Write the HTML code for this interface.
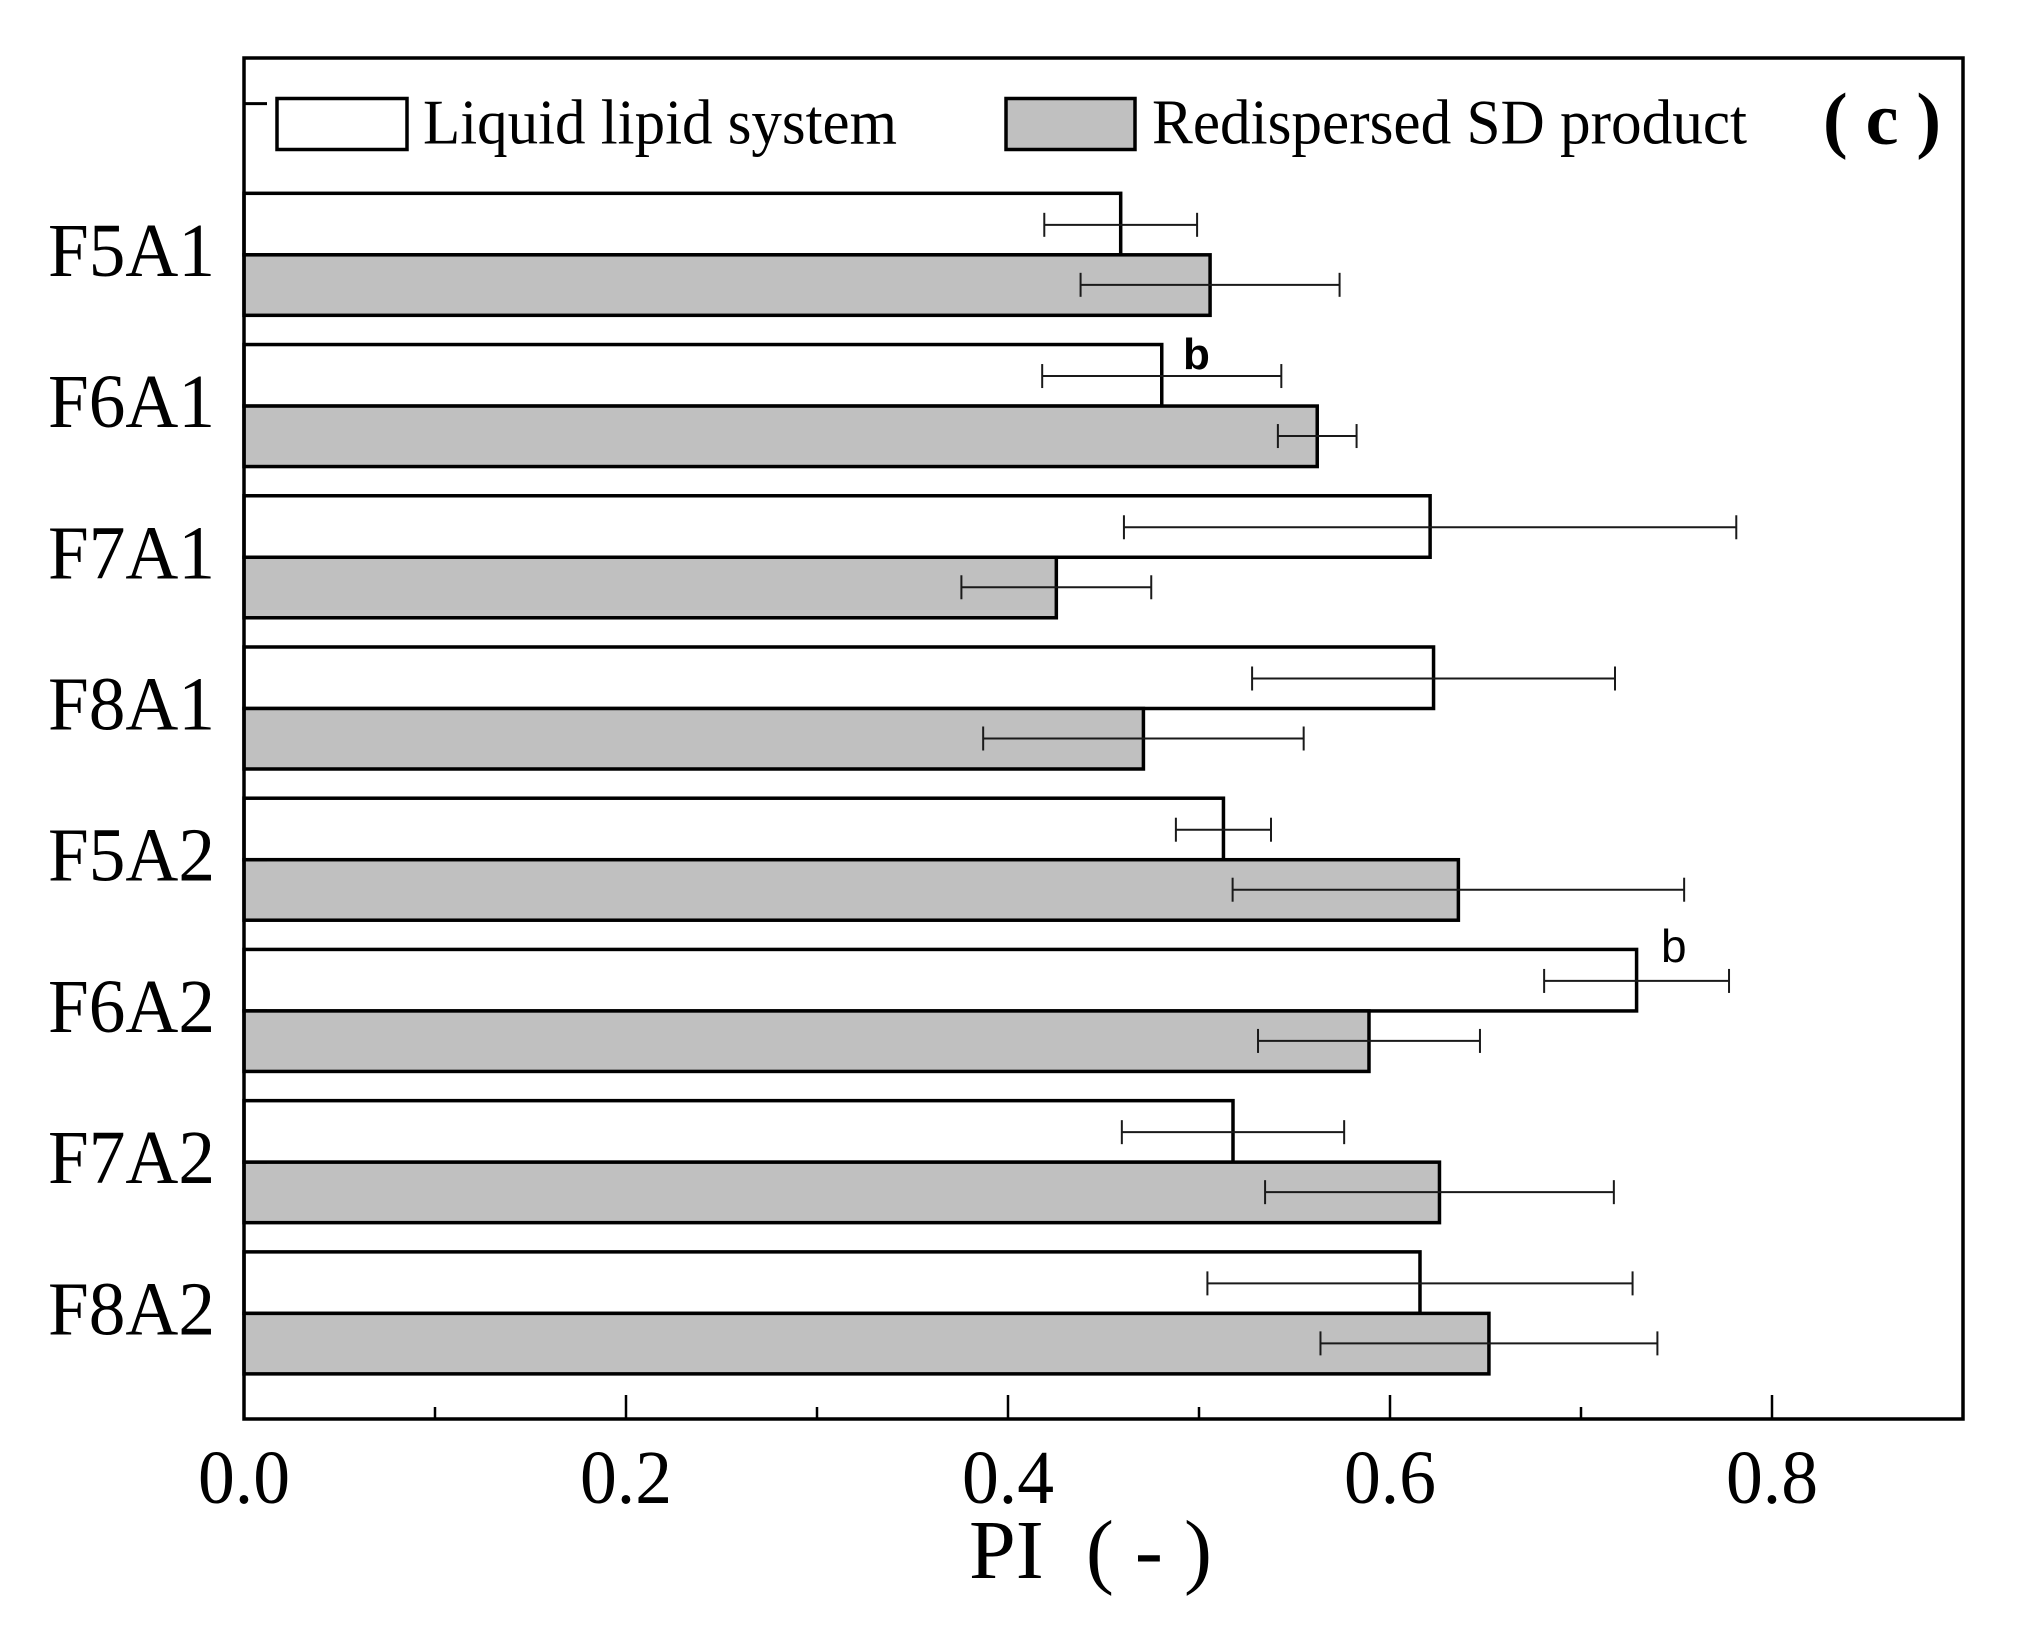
<!DOCTYPE html>
<html lang="en">
<head>
<meta charset="utf-8">
<title>PI bar chart (c)</title>
<style>
html,body{margin:0;padding:0;background:#fff;}
svg{display:block;}
text{font-family:"Liberation Serif",serif;fill:#000;}
</style>
</head>
<body>
<svg id="chart" xmlns="http://www.w3.org/2000/svg" width="2040" height="1635" viewBox="0 0 2040 1635">
  <rect x="0" y="0" width="2040" height="1635" fill="#fff"/>
  <g id="bars"></g>
  <g id="errors"></g>
  <g id="axes"></g>

  <g>
    <rect x="277" y="98.5" width="130" height="51" fill="#fff" stroke="#000" stroke-width="3.5"/>
    <text x="423" y="143.5" font-size="63" textLength="474" lengthAdjust="spacingAndGlyphs">Liquid lipid system</text>
    <rect x="1006" y="98.5" width="129" height="51" fill="#c0c0c0" stroke="#000" stroke-width="3.5"/>
    <text x="1152" y="143.5" font-size="63" textLength="595" lengthAdjust="spacingAndGlyphs">Redispersed SD product</text>
  </g>
  <text x="1823" y="144" font-size="74" font-weight="bold" textLength="118" lengthAdjust="spacing">( c )</text>
  <text x="1183" y="369" font-size="44" font-weight="bold" style="font-family:'Liberation Sans',sans-serif">b</text>
  <text x="1661" y="962" font-size="46" style="font-family:'Liberation Sans',sans-serif">b</text>
  <text x="969" y="1578" font-size="84" textLength="243" lengthAdjust="spacingAndGlyphs">PI&#160;&#160;(&#160;-&#160;)</text>
</svg>
<script>
const categories = ['F5A1','F6A1','F7A1','F8A1','F5A2','F6A2','F7A2','F8A2'];
const liquidValues = [0.459,0.4805,0.621,0.6228,0.5128,0.7291,0.5178,0.6157];
const liquidErrors = [0.040,0.0626,0.1603,0.095,0.0249,0.0484,0.0582,0.1113];
const sdValues = [0.5058,0.5619,0.4253,0.4709,0.6358,0.589,0.6259,0.6518];
const sdErrors = [0.0678,0.0206,0.0497,0.0839,0.1182,0.0581,0.0913,0.0882];
const majorTicks = [0,0.2,0.4,0.6,0.8];
const minorTicks = [0.1,0.3,0.5,0.7];
const xDomainMax = 0.9;
const slotCount = 9;

const NS = 'http://www.w3.org/2000/svg';
const plotLeft = 244, plotRight = 1963, plotTop = 58, plotBottom = 1419;
const liquidThickness = 61.5;
const sdThickness = 60.5;

function xScale(v){ return plotLeft + (plotRight - plotLeft) * v / xDomainMax; }
// slot 0 is the empty legend row; category i sits at slot i + 1
function yScale(slot){ return plotTop + 45.6 + (plotBottom - plotTop) / slotCount * slot; }

function make(tag, attrs, parent){
  const node = document.createElementNS(NS, tag);
  for (const k in attrs) node.setAttribute(k, attrs[k]);
  parent.appendChild(node);
  return node;
}

const barsG = document.getElementById('bars');
const errorsG = document.getElementById('errors');
const axesG = document.getElementById('axes');

function drawBar(value, y, h, fill, name){
  const r = make('rect', {x: plotLeft, y: y, width: xScale(value) - plotLeft, height: h, fill: fill, stroke: '#000', 'stroke-width': 3.5}, barsG);
  
  
}

function drawError(value, err, y, name){
  const g = make('g', {stroke: '#1a1a1a', 'stroke-width': 2}, errorsG);
  
  
  const lo = xScale(value - err), hi = xScale(value + err);
  make('line', {x1: lo, x2: hi, y1: y, y2: y}, g);
  make('line', {x1: lo, x2: lo, y1: y - 12, y2: y + 12}, g);
  make('line', {x1: hi, x2: hi, y1: y - 12, y2: y + 12}, g);
}

categories.forEach(function(cat, i){
  const c = yScale(i + 1);
  const key = cat.toLowerCase();
  drawBar(liquidValues[i], c - liquidThickness, liquidThickness, '#fff', 'bar-liquid-' + key);
  drawBar(sdValues[i], c, sdThickness, '#c0c0c0', 'bar-redispersed-' + key);
  drawError(liquidValues[i], liquidErrors[i], c - 30, 'error-liquid-' + key);
  drawError(sdValues[i], sdErrors[i], c + 30, 'error-redispersed-' + key);

  const label = make('text', {x: 48, y: c + 21, 'font-size': 76, textLength: 167, lengthAdjust: 'spacingAndGlyphs'}, axesG);
  
  
  label.textContent = cat;
});

// y ticks, including the empty legend slot
for (let s = 0; s <= categories.length; s++) {
  const t = make('line', {x1: plotLeft, x2: plotLeft + 23, y1: yScale(s), y2: yScale(s), stroke: '#000', 'stroke-width': 3}, axesG);
  
  
}

majorTicks.forEach(function(v){
  const t = make('line', {x1: xScale(v), x2: xScale(v), y1: plotBottom - 24, y2: plotBottom, stroke: '#000', 'stroke-width': 2.5}, axesG);
  
  
  const label = make('text', {x: xScale(v), y: 1503, 'font-size': 76, 'text-anchor': 'middle', textLength: 92, lengthAdjust: 'spacingAndGlyphs'}, axesG);
  
  
  label.textContent = v.toFixed(1);
});

minorTicks.forEach(function(v){
  const t = make('line', {x1: xScale(v), x2: xScale(v), y1: plotBottom - 12, y2: plotBottom, stroke: '#000', 'stroke-width': 2.5}, axesG);
  
  
});

const frame = make('rect', {x: plotLeft, y: plotTop, width: plotRight - plotLeft, height: plotBottom - plotTop, fill: 'none', stroke: '#000', 'stroke-width': 3.5}, axesG);


</script>
</body>
</html>
